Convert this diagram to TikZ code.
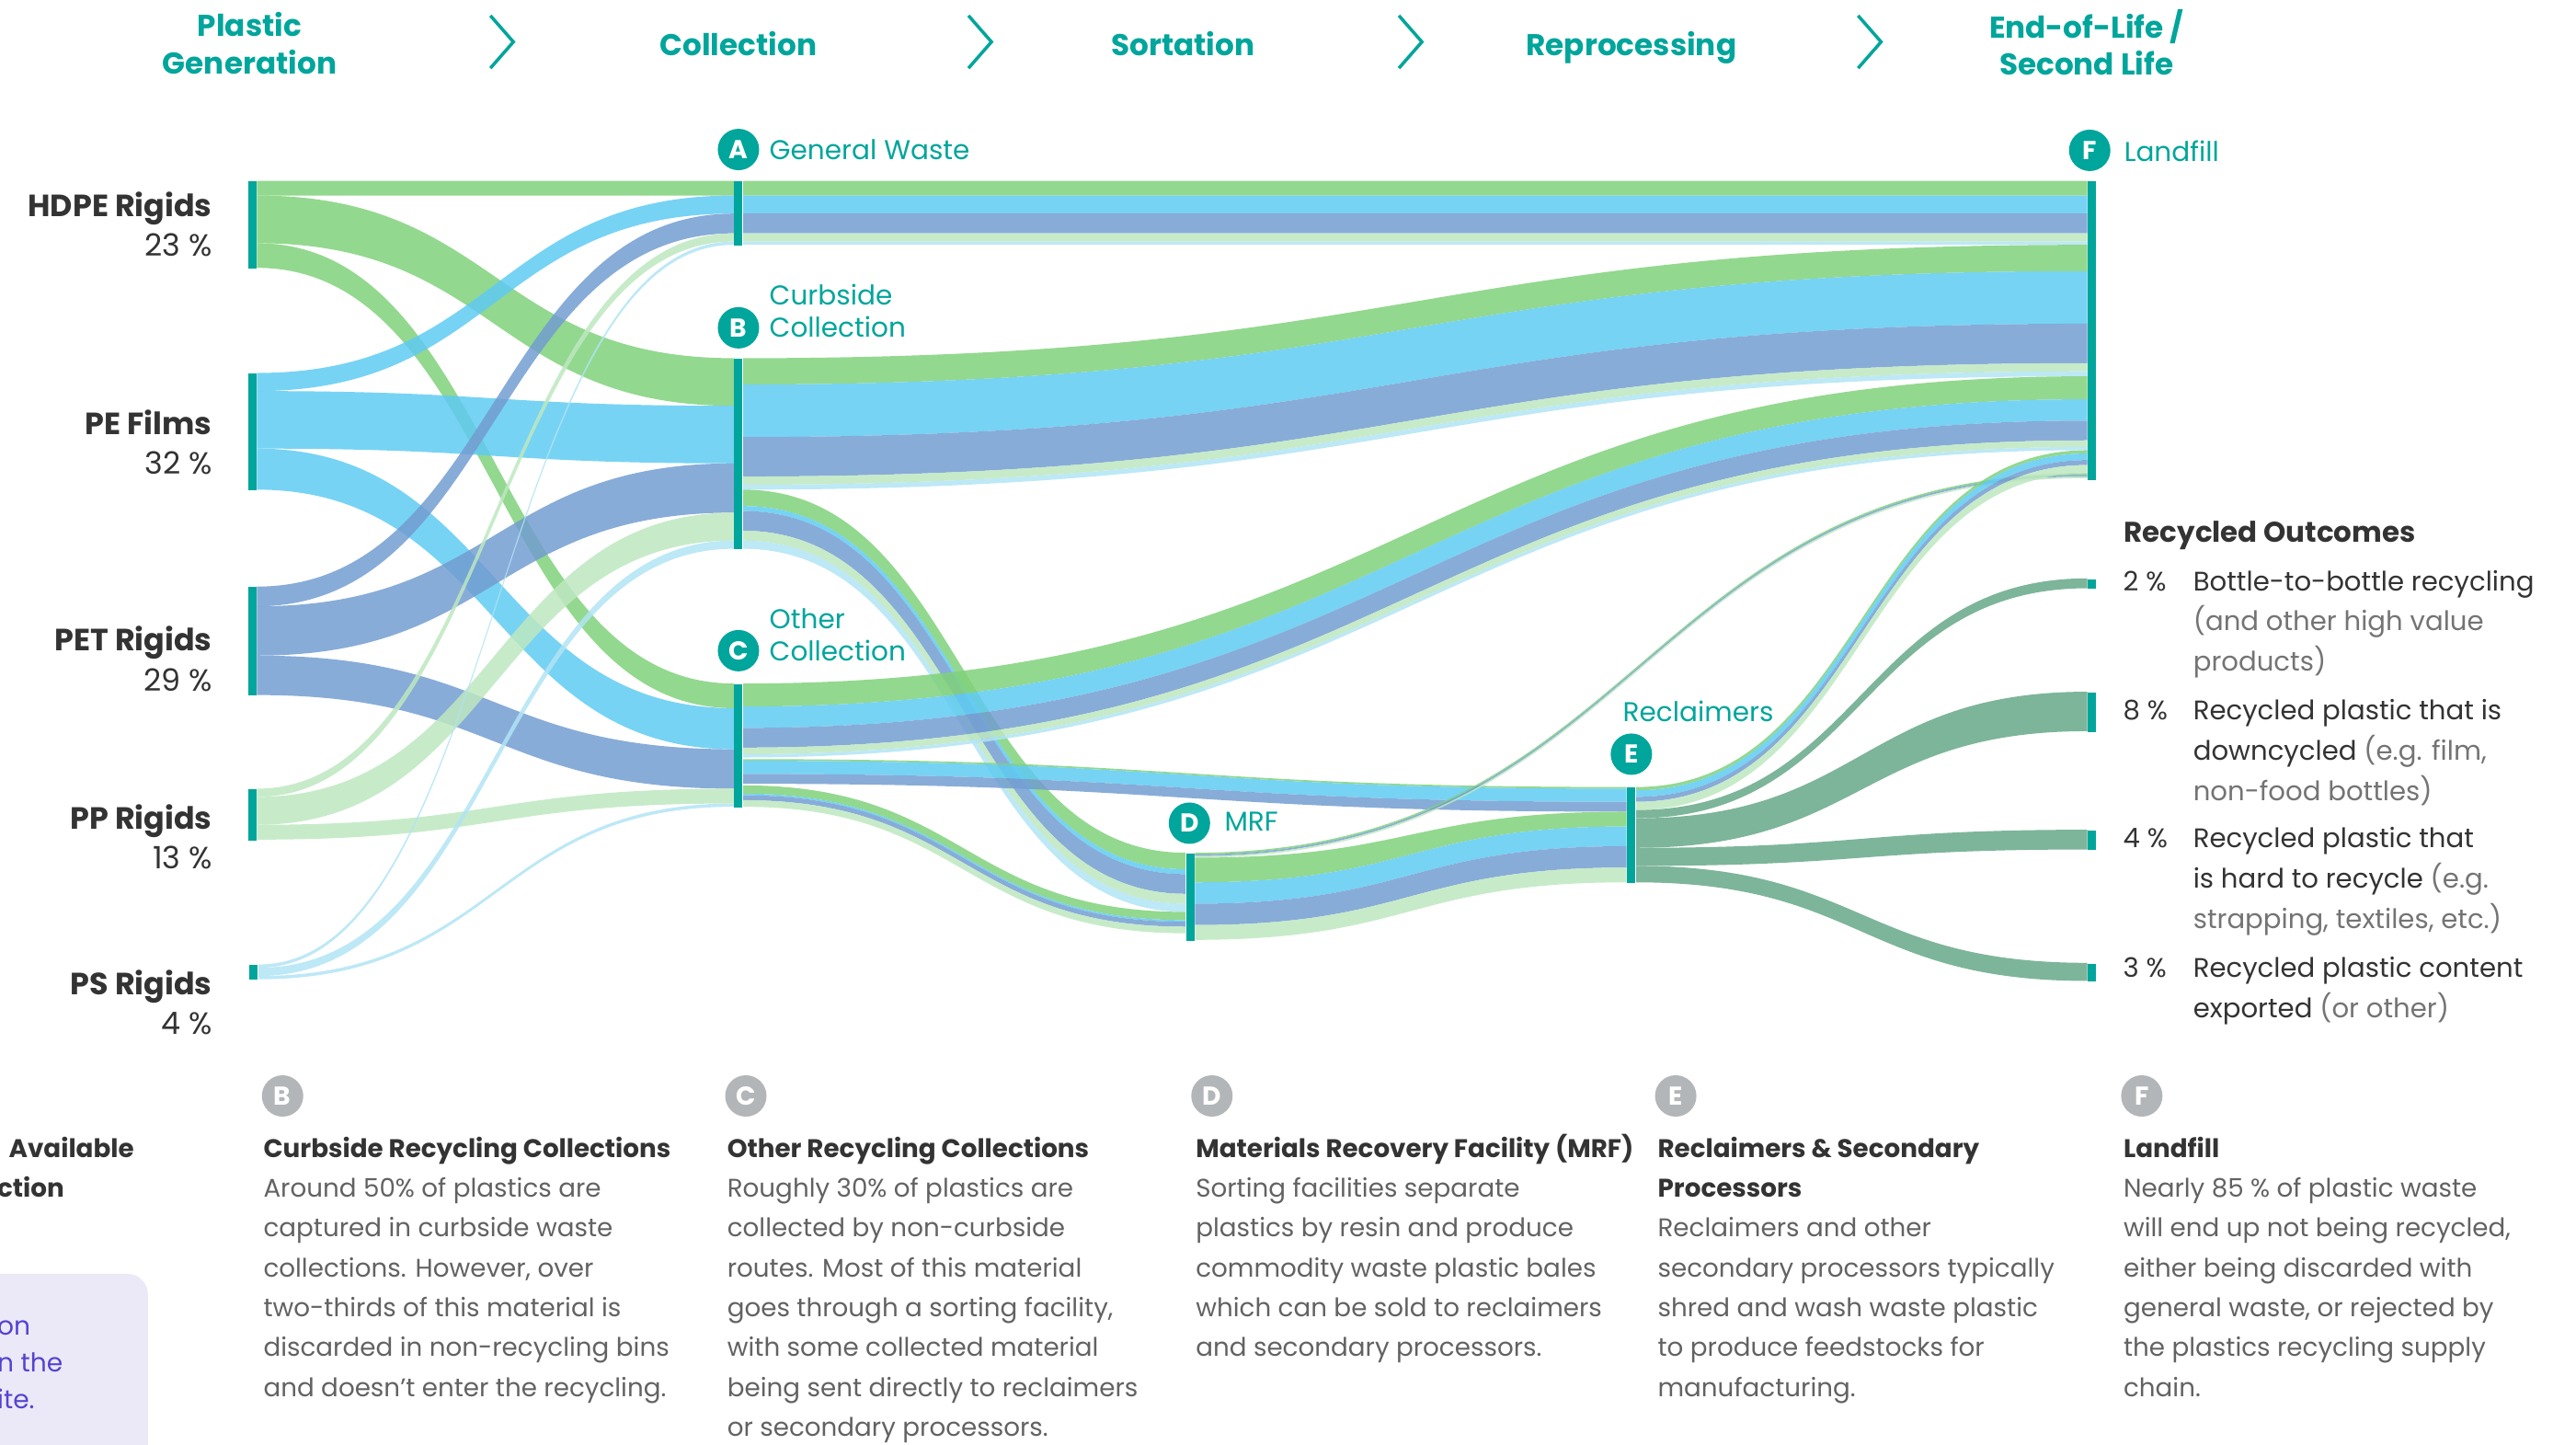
\documentclass[tikz,border=0pt]{standalone}
\usepackage{fontspec}
\setmainfont{Poppins}
\usetikzlibrary{calc,backgrounds}

\definecolor{tealc}{HTML}{00A59B}
\definecolor{inkc}{HTML}{333333}
\definecolor{bodyc}{HTML}{626262}
\definecolor{softc}{HTML}{747474}
\definecolor{hdpec}{HTML}{80D17B}
\definecolor{pec}{HTML}{5FCBF2}
\definecolor{petc}{HTML}{739DD1}
\definecolor{ppc}{HTML}{BDE7C0}
\definecolor{psc}{HTML}{B1E4F5}
\definecolor{outc}{HTML}{7DB59A}
\definecolor{greyc}{HTML}{B3B6B8}
\definecolor{lilac}{HTML}{EBE9F8}
\definecolor{violetc}{HTML}{5443D1}

\newcommand\txtlines[2][l]{\begin{tabular}[t]{@{}#1@{}}#2\end{tabular}}
\newcommand\mkbar[4]{\node[bar, minimum height={(#4-#3)*0.17864mm}, anchor=north] (#1) at (#2,#3) {};}
% band from one bar to another: src, src offset, dst, dst offset, src width, dst width, style
\newcommand\flow[7]{%
  \path ($(#1.north east)+(0,#2)$) coordinate (fa1)
        ($(#1.north east)+(0,#2+#5)$) coordinate (fa2)
        ($(#3.north west)+(0,#4)$) coordinate (fb1)
        ($(#3.north west)+(0,#4+#6)$) coordinate (fb2)
        ($(fa1)!.5!(fb1)$) coordinate (fm);
  \fill[#7] (fa1) .. controls (fm |- fa1) and (fm |- fb1) .. (fb1) -- (fb2)
     .. controls (fm |- fb2) and (fm |- fa2) .. (fa2) -- cycle;}

\begin{document}
\begin{tikzpicture}[x=0.17864mm, y=-0.17864mm,
    every node/.style={inner sep=0pt},
    bar/.style={fill=tealc, minimum width=0.9mm},
    badge/.style={circle, fill=tealc, text=white, minimum size=4.5mm, font=\bfseries\fontsize{8}{9}\selectfont},
    greybadge/.style={badge, fill=greyc},
    stage/.style={text=tealc, font=\bfseries\fontsize{9.3}{11.6}\selectfont, anchor=base},
    chev/.style={draw=tealc, line width=1pt},
    src/.style={text=inkc, font=\fontsize{9.5}{12.3}\selectfont, anchor=base east},
    tag/.style={text=tealc, font=\fontsize{8.4}{9.8}\selectfont, anchor=base west},
    body/.style={text=bodyc, font=\fontsize{7.9}{12.33}\selectfont, anchor=base west},
    outtxt/.style={text=inkc, font=\fontsize{8.3}{12.45}\selectfont, anchor=base west},
    hdpeflow/.style={fill=hdpec, fill opacity=.85},
    peflow/.style={fill=pec, fill opacity=.85},
    petflow/.style={fill=petc, fill opacity=.85},
    ppflow/.style={fill=ppc, fill opacity=.85},
    psflow/.style={fill=psc, fill opacity=.85},
    outflow/.style={fill=outc}]
\useasboundingbox (0,0) rectangle (1568,879.4);

% Stages
\node[stage] (hdgen) at (152,22) {\txtlines[c]{Plastic\\Generation}};
\node[stage] (hdcol) at (449.5,34) {Collection};
\node[stage] (hdsort) at (720,34) {Sortation};
\node[stage] (hdrep) at (993,34) {Reprocessing};
\node[stage] (hdend) at (1270,23) {\txtlines[c]{End-of-Life /\\Second Life}};
\draw[chev] (298.5,9.5) -- (312.5,25.5) -- (298.5,41.5);
\draw[chev] (589.5,9.5) -- (603.5,25.5) -- (589.5,41.5);
\draw[chev] (851.5,9.5) -- (865.5,25.5) -- (851.5,41.5);
\draw[chev] (1131,9.5) -- (1145,25.5) -- (1131,41.5);

% Bars
\mkbar{hdpe}{153.5}{110}{163}
\mkbar{pefilm}{153.5}{227}{298}
\mkbar{pet}{153.5}{357}{423}
\mkbar{pp}{153.5}{480}{511}
\mkbar{ps}{154.5}{587}{596}
\mkbar{gw}{449.5}{110}{149}
\mkbar{curb}{449.5}{218}{334}
\mkbar{other}{449.5}{416}{491}
\mkbar{mrf}{724.5}{519}{572}
\mkbar{recl}{993}{479}{537}
\mkbar{landfill}{1273.5}{110}{292}
\mkbar{outbtb}{1273.5}{352}{358}
\mkbar{outdown}{1273.5}{421}{445}
\mkbar{outhard}{1273.5}{505}{517}
\mkbar{outexp}{1273.5}{586}{597}

% Flows
\begin{scope}[on background layer]
\flow{hdpe}{0}{gw}{0}{9}{9}{hdpeflow}
\flow{hdpe}{9}{curb}{0}{29}{29}{hdpeflow}
\flow{hdpe}{38}{other}{0}{15}{15}{hdpeflow}
\flow{pefilm}{0}{gw}{9}{11}{11}{peflow}
\flow{pefilm}{11}{curb}{29}{35}{35}{peflow}
\flow{pefilm}{46}{other}{15}{25}{25}{peflow}
\flow{pet}{0}{gw}{20}{12}{12}{petflow}
\flow{pet}{12}{curb}{64}{30}{30}{petflow}
\flow{pet}{42}{other}{40}{24}{24}{petflow}
\flow{pp}{0}{gw}{32}{5}{5}{ppflow}
\flow{pp}{5}{curb}{94}{17}{17}{ppflow}
\flow{pp}{22}{other}{64}{9}{9}{ppflow}
\flow{ps}{0}{gw}{37}{2}{2}{psflow}
\flow{ps}{2}{curb}{111}{5}{5}{psflow}
\flow{ps}{7}{other}{73}{2}{2}{psflow}
% general waste to landfill
\flow{gw}{0}{landfill}{0}{9}{9}{hdpeflow}
\flow{gw}{9}{landfill}{9}{11}{11}{peflow}
\flow{gw}{20}{landfill}{20}{12}{12}{petflow}
\flow{gw}{32}{landfill}{32}{5}{5}{ppflow}
\flow{gw}{37}{landfill}{37}{2}{2}{psflow}
% curbside
\flow{curb}{0}{landfill}{39}{16}{16}{hdpeflow}
\flow{curb}{16}{landfill}{55}{32}{32}{peflow}
\flow{curb}{48}{landfill}{87}{24}{24}{petflow}
\flow{curb}{72}{landfill}{111}{5}{5}{ppflow}
\flow{curb}{77}{landfill}{116}{3}{3}{psflow}
\flow{curb}{80}{mrf}{0}{10}{10}{hdpeflow}
\flow{curb}{90}{mrf}{10}{3}{3}{peflow}
\flow{curb}{93}{mrf}{13}{12}{12}{petflow}
\flow{curb}{105}{mrf}{25}{6}{6}{ppflow}
\flow{curb}{111}{mrf}{31}{5}{5}{psflow}
% other collection
\flow{other}{0}{landfill}{119}{14}{14}{hdpeflow}
\flow{other}{14}{landfill}{133}{13}{13}{peflow}
\flow{other}{27}{landfill}{146}{12}{12}{petflow}
\flow{other}{39}{landfill}{158}{4}{4}{ppflow}
\flow{other}{43}{landfill}{162}{2}{2}{psflow}
\flow{other}{46}{recl}{0}{1}{1}{hdpeflow}
\flow{other}{47}{recl}{1}{8}{8}{peflow}
\flow{other}{55}{recl}{9}{6}{6}{petflow}
\flow{other}{62}{mrf}{36}{5}{5}{hdpeflow}
\flow{other}{67}{mrf}{41}{1}{1}{peflow}
\flow{other}{68}{mrf}{42}{3}{3}{petflow}
\flow{other}{71}{mrf}{45}{4}{4}{ppflow}
% MRF
\flow{mrf}{0}{landfill}{178}{1}{1}{hdpeflow}
\flow{mrf}{1}{landfill}{179}{1}{1}{petflow}
\flow{mrf}{2}{landfill}{180}{1}{1}{ppflow}
\flow{mrf}{3}{recl}{15}{15}{9}{hdpeflow}
\flow{mrf}{18}{recl}{24}{13}{12}{peflow}
\flow{mrf}{31}{recl}{36}{13}{13}{petflow}
\flow{mrf}{44}{recl}{49}{9}{9}{ppflow}
% reclaimers
\flow{recl}{0}{landfill}{164}{2}{2}{hdpeflow}
\flow{recl}{2}{landfill}{166}{4}{4}{peflow}
\flow{recl}{6}{landfill}{170}{3}{3}{petflow}
\flow{recl}{9}{landfill}{173}{5}{5}{ppflow}
\flow{recl}{14}{outbtb}{0}{5}{6}{outflow}
\flow{recl}{19}{outdown}{0}{18}{24}{outflow}
\flow{recl}{37}{outhard}{0}{11}{12}{outflow}
\flow{recl}{48}{outexp}{0}{10}{11}{outflow}
\end{scope}

% Sources
\node[src] (lbhdpe) at (129.5,131.8) {\txtlines[r]{\textbf{HDPE Rigids}\\23 \%}};
\node[src] (lbpe) at (129.5,264.4) {\txtlines[r]{\textbf{PE Films}\\32 \%}};
\node[src] (lbpet) at (129.5,396.3) {\txtlines[r]{\textbf{PET Rigids}\\29 \%}};
\node[src] (lbpp) at (129.5,504.4) {\txtlines[r]{\textbf{PP Rigids}\\13 \%}};
\node[src] (lbps) at (129.5,605.4) {\txtlines[r]{\textbf{PS Rigids}\\4 \%}};

% Badges and labels
\node[badge] (bgw) at (449.5,91) {A};
\node[badge] (bcurb) at (449.5,199.5) {B};
\node[badge] (bother) at (449.5,396) {C};
\node[badge] (bmrf) at (724,501) {D};
\node[badge] (brecl) at (993,459) {E};
\node[badge] (bland) at (1272,91.5) {F};
\node[tag] (tgw) at (468,97) {General Waste};
\node[tag] (tcurb) at (468,185.7) {\txtlines{Curbside\\Collection}};
\node[tag] (tother) at (468,382.8) {\txtlines{Other\\Collection}};
\node[tag] (tmrf) at (745,506) {MRF};
\node[tag] (trecl) at (987.5,439.4) {Reclaimers};
\node[tag] (tland) at (1292.6,98.3) {Landfill};

% Recycled outcomes
\node[outtxt, font=\bfseries\fontsize{8.8}{10}\selectfont] (routhd) at (1292.5,329.8) {Recycled Outcomes};
\node[outtxt] (pbtb) at (1292,359.4) {2 \%};
\node[outtxt] (tbtb) at (1334.6,359.4) {\txtlines{Bottle-to-bottle recycling\\\textcolor{softc}{(and other high value}\\\textcolor{softc}{products)}}};
\node[outtxt] (pdown) at (1292,438.2) {8 \%};
\node[outtxt] (tdown) at (1334.6,438.2) {\txtlines{Recycled plastic that is\\downcycled \textcolor{softc}{(e.g. film,}\\\textcolor{softc}{non-food bottles)}}};
\node[outtxt] (phard) at (1292,516.1) {4 \%};
\node[outtxt] (thard) at (1334.6,516.1) {\txtlines{Recycled plastic that\\is hard to recycle \textcolor{softc}{(e.g.}\\\textcolor{softc}{strapping, textiles, etc.)}}};
\node[outtxt] (pexp) at (1292,594.7) {3 \%};
\node[outtxt] (texp) at (1334.6,594.7) {\txtlines{Recycled plastic content\\exported \textcolor{softc}{(or other)}}};

% Notes
\node[body] (colA) at (5,704.4) {\textcolor{inkc}{\textbf{Available}}};
\node[body] (colA2) at (-2,728.7) {\textcolor{inkc}{\textbf{ction}}};
\fill[lilac, rounded corners=2.2mm] (-30,775.3) rectangle (90,940);
\node[body, text=violetc, font=\fontsize{8}{11.4}\selectfont] (noteA) at (-2,812.6) {\txtlines{on\\n the\\ite.}};

\node[greybadge] (gB) at (172,667) {B};
\node[greybadge] (gC) at (454,667) {C};
\node[greybadge] (gD) at (737.7,667) {D};
\node[greybadge] (gE) at (1020,667) {E};
\node[greybadge] (gF) at (1303.7,667) {F};

\node[body] (colB) at (160,704.4) {\txtlines{\textcolor{inkc}{\textbf{Curbside Recycling Collections}}\\Around 50\% of plastics are\\captured in curbside waste\\collections. However, over\\two-thirds of this material is\\discarded in non-recycling bins\\and doesn’t enter the recycling.}};
\node[body] (colC) at (442.3,704.4) {\txtlines{\textcolor{inkc}{\textbf{Other Recycling Collections}}\\Roughly 30\% of plastics are\\collected by non-curbside\\routes. Most of this material\\goes through a sorting facility,\\with some collected material\\being sent directly to reclaimers\\or secondary processors.}};
\node[body] (colD) at (727.5,704.4) {\txtlines{\textcolor{inkc}{\textbf{Materials Recovery Facility (MRF)}}\\Sorting facilities separate\\plastics by resin and produce\\commodity waste plastic bales\\which can be sold to reclaimers\\and secondary processors.}};
\node[body] (colE) at (1008.7,704.4) {\txtlines{\textcolor{inkc}{\textbf{Reclaimers \& Secondary}}\\\textcolor{inkc}{\textbf{Processors}}\\Reclaimers and other\\secondary processors typically\\shred and wash waste plastic\\to produce feedstocks for\\manufacturing.}};
\node[body] (colF) at (1292.2,704.4) {\txtlines{\textcolor{inkc}{\textbf{Landfill}}\\Nearly 85 \% of plastic waste\\will end up not being recycled,\\either being discarded with\\general waste, or rejected by\\the plastics recycling supply\\chain.}};
\end{tikzpicture}
\end{document}
